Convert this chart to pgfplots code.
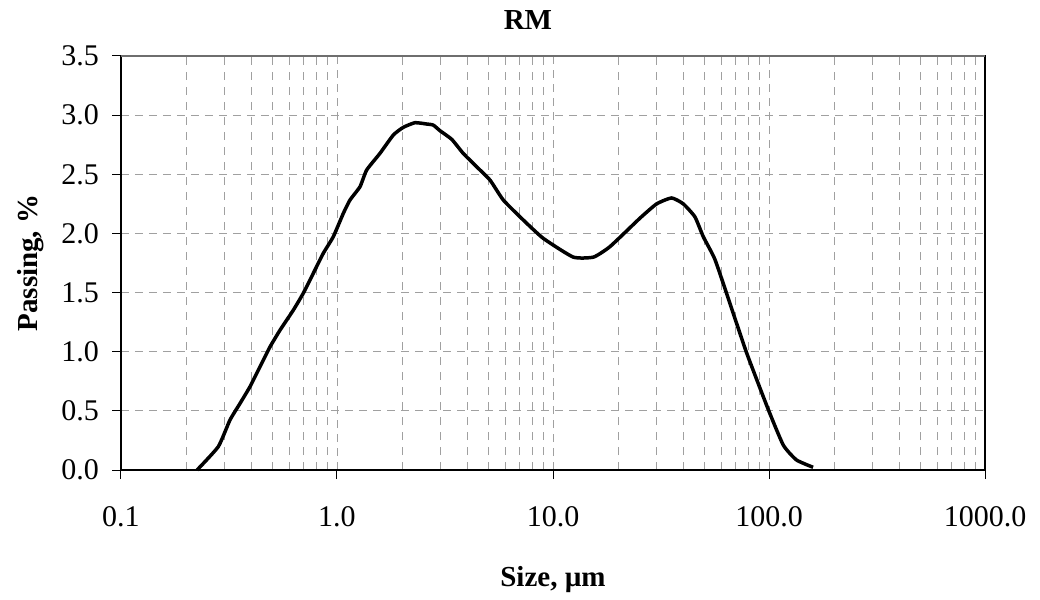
\documentclass[border=0pt]{standalone}
\usepackage{pgfplots}
\pgfplotsset{compat=1.18}
\usepackage{fontspec}
\setmainfont{Liberation Serif}
\definecolor{gridgray}{RGB}{160,160,160}
\definecolor{topgray}{RGB}{110,110,110}
\begin{document}
\fontsize{30}{35}\selectfont
\begin{tikzpicture}
\begin{axis}[
  at={(0,0)}, anchor=south west,
  width=864pt, height=414pt, scale only axis,
  xmode=log, xmin=0.1, xmax=1000,
  ymin=0, ymax=3.5,
  log basis x=10,
  xtick={0.1,1,10,100,1000},
  xticklabels={0.1,1.0,10.0,100.0,1000.0},
  ytick={0,0.5,1,1.5,2,2.5,3,3.5},
  yticklabels={0.0,0.5,1.0,1.5,2.0,2.5,3.0,3.5},
  minor xtick={0.2,0.3,0.4,0.5,0.6,0.7,0.8,0.9,2,3,4,5,6,7,8,9,20,30,40,50,60,70,80,90,200,300,400,500,600,700,800,900},
  grid=both,
  major grid style={gridgray, line width=0.9pt, dash pattern=on 8pt off 6pt},
  minor grid style={gridgray, line width=0.9pt, dash pattern=on 8pt off 7pt},
  tick align=outside,
  xtick pos=bottom, ytick pos=left,
  major tick length=9pt, minor tick length=0pt,
  tick style={black, line width=1pt},
  axis line style={black, line width=1.2pt},
  ticklabel style={font=\fontsize{30}{35}\selectfont, inner sep=0pt},
  xticklabel style={anchor=base, yshift=-47pt},
  yticklabel style={anchor=east, xshift=-13pt},
  title={RM},
  title style={at={(axis description cs:0.471,1)}, anchor=base, yshift=20pt, font=\fontsize{29}{34}\selectfont\bfseries, inner sep=0pt},
  xlabel={Size, µm},
  xlabel style={at={(axis description cs:0.5,0)}, anchor=base, yshift=-116pt, font=\fontsize{29}{34}\selectfont\bfseries, inner sep=0pt},
  ylabel={Passing, \%},
  ylabel style={at={(axis description cs:-0.1042,0.5)}, anchor=center, font=\fontsize{29}{34}\selectfont\bfseries, inner sep=0pt},
  clip=false,
]
\addplot[black, line width=3.5pt, line join=round, smooth, tension=0.3] coordinates {
(0.225,0) (0.282,0.197) (0.3196,0.423) (0.356,0.564) (0.3955,0.704) (0.440,0.873)
(0.490,1.042) (0.545,1.183) (0.628,1.352) (0.698,1.494) (0.777,1.663) (0.864,1.832)
(0.961,1.972) (1.070,2.170) (1.148,2.282) (1.278,2.395) (1.372,2.536) (1.581,2.677)
(1.823,2.832) (2.028,2.897) (2.296,2.936) (2.60,2.925) (2.79,2.916) (3.00,2.868)
(3.40,2.795) (3.84,2.677) (4.43,2.564) (5.11,2.451) (5.89,2.282) (7.29,2.113)
(9.02,1.958) (12.4,1.80) (15.4,1.80) (18.4,1.89) (25.3,2.13)
(30.2,2.25) (35.4,2.30) (40.1,2.25) (45.4,2.14) (49.7,1.97) (56.2,1.78)
(65.9,1.41) (78.8,0.99) (99.3,0.51) (116.5,0.21) (134,0.085) (160,0.023)
};
\draw[topgray, line width=1.2pt] (rel axis cs:0,1) -- (rel axis cs:1,1);
\node[anchor=base, inner sep=0pt, font=\fontsize{28}{33}\selectfont] at (axis description cs:0.537,0) [yshift=-152pt] {Particle size distribution of red mud};
\end{axis}
\pgfresetboundingbox
\useasboundingbox ([xshift=-121pt,yshift=-129pt]current axis.south west) rectangle ([xshift=919pt,yshift=470pt]current axis.south west);
\end{tikzpicture}
\end{document}
